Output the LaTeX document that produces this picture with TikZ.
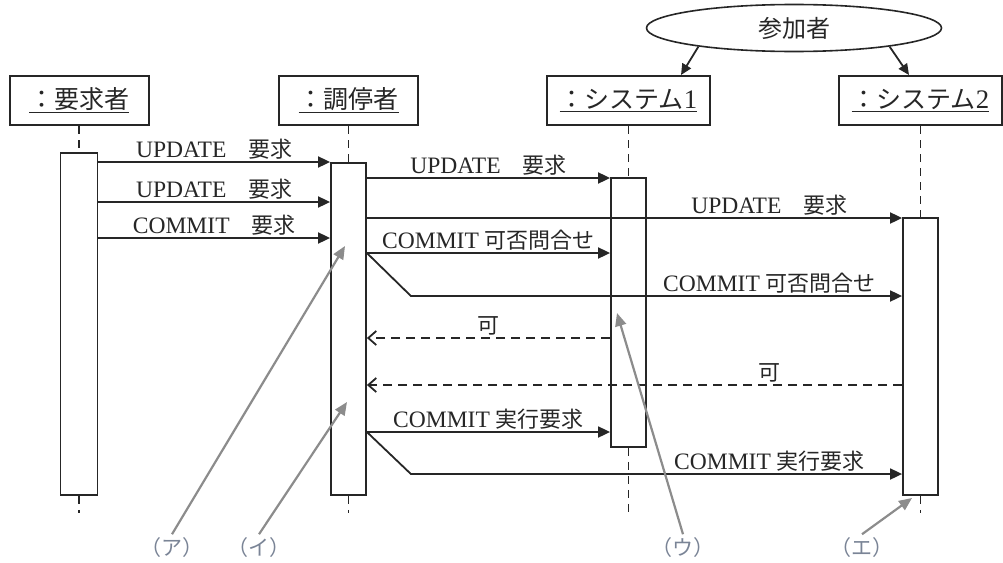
\documentclass[tikz,border=0pt]{standalone}
\usepackage{fontspec}
\setmainfont{Liberation Serif}[Scale=1.07]
\newfontfamily\jp{Noto Sans CJK JP}
\usetikzlibrary{positioning, arrows.meta, shapes.geometric, calc}
\definecolor{lineblack}{HTML}{262626}
\definecolor{notegray}{HTML}{8C8C8C}
\definecolor{notetext}{HTML}{7A8496}

\begin{document}
\begin{tikzpicture}[
    x=1pt, y=-1pt,
    every node/.style={font=\fontsize{22}{24}\selectfont, text=lineblack},
    headbox/.style={draw=lineblack, line width=2pt, minimum height=49pt, inner sep=0pt, font=\fontsize{25}{27}\selectfont},
    actbar/.style={draw=lineblack, line width=1.8pt, fill=white, minimum width=35pt, inner sep=0pt},
    lifeline/.style={draw=lineblack, line width=1.6pt, dash pattern=on 8pt off 6pt},
    callmsg/.style={draw=lineblack, line width=1.8pt, -{Triangle[length=12pt,width=11pt]}},
    replymsg/.style={draw=lineblack, line width=1.8pt, dash pattern=on 9pt off 6pt, -{Straight Barb[length=8pt,width=14pt]}},
    msglabel/.style={above, inner sep=1.5pt},
    notearrow/.style={draw=notegray, line width=2.2pt, -{Triangle[length=13pt,width=11pt]}},
    notelabel/.style={text=notetext, font=\fontsize{21}{23}\selectfont},
  ]
  \useasboundingbox (0,0) rectangle (1003,562);

  \node[draw=lineblack, line width=1.6pt, ellipse, minimum width=295pt, minimum height=47pt, inner sep=0pt, font=\fontsize{24}{26}\selectfont] (part) at (794,28) {\jp 参加者};

  \node[headbox, minimum width=139pt] (req) at (79,100.5) {\underline{\jp ：要求者}};
  \node[headbox, minimum width=139pt] (med) at (348.5,100.5) {\underline{\jp ：調停者}};
  \node[headbox, minimum width=163pt] (sys1) at (628.5,100.5) {\underline{{\jp ：システム}1}};
  \node[headbox, minimum width=163pt] (sys2) at (920.5,100.5) {\underline{{\jp ：システム}2}};

  \draw[callmsg, -{Triangle[length=11pt,width=10pt]}] (part.191) -- ($(sys1.north east)+(-30,0)$);
  \draw[callmsg, -{Triangle[length=11pt,width=10pt]}] (part.349) -- ($(sys2.north west)+(71,0)$);

  \node[actbar, minimum width=37pt, minimum height=342pt] (reqbar) at (79,324) {};
  \node[actbar, minimum height=332pt] (medbar) at (348.5,329) {};
  \node[actbar, minimum height=269pt] (s1bar) at (628.5,312.5) {};
  \node[actbar, minimum height=277pt] (s2bar) at (920.5,356.5) {};

  \draw[lifeline] (req.south) -- (reqbar.north);
  \draw[lifeline] (med.south) -- (medbar.north);
  \draw[lifeline] (sys1.south) -- (s1bar.north);
  \draw[lifeline] (sys2.south) -- (s2bar.north);
  \draw[lifeline] (reqbar.south) -- (reqbar.south |- 0,513);
  \draw[lifeline] (medbar.south) -- (medbar.south |- 0,513);
  \draw[lifeline] (s1bar.south) -- (s1bar.south |- 0,513);
  \draw[lifeline] (s2bar.south) -- (s2bar.south |- 0,513);

  \draw[callmsg] (reqbar.east |- 0,162) -- node[msglabel] {UPDATE{\jp 　要求}} (medbar.west |- 0,162);
  \draw[callmsg] (reqbar.east |- 0,202) -- node[msglabel] {UPDATE{\jp 　要求}} (medbar.west |- 0,202);
  \draw[callmsg] (reqbar.east |- 0,238) -- node[msglabel] {COMMIT{\jp 　要求}} (medbar.west |- 0,238);

  \draw[callmsg] (medbar.east |- 0,178) -- node[msglabel] {UPDATE{\jp 　要求}} (s1bar.west |- 0,178);
  \draw[callmsg] (medbar.east |- 0,218) -- node[msglabel, pos=.752] {UPDATE{\jp 　要求}} (s2bar.west |- 0,218);
  \draw[callmsg] (medbar.east |- 0,253) -- node[msglabel] {COMMIT {\jp 可否問合せ}} (s1bar.west |- 0,253);
  \draw[callmsg] (medbar.east |- 0,253) -- ++(44,43) -- node[msglabel, pos=.73] {COMMIT {\jp 可否問合せ}} (s2bar.west |- 0,296);

  \draw[replymsg] (s1bar.west |- 0,338) -- node[msglabel] {\jp 可} (medbar.east |- 0,338);
  \draw[replymsg] (s2bar.west |- 0,385) -- node[msglabel, pos=.248] {\jp 可} (medbar.east |- 0,385);

  \draw[callmsg] (medbar.east |- 0,432) -- node[msglabel] {COMMIT {\jp 実行要求}} (s1bar.west |- 0,432);
  \draw[callmsg] (medbar.east |- 0,432) -- ++(44,42) -- node[msglabel, pos=.73] {COMMIT {\jp 実行要求}} (s2bar.west |- 0,474);

  \node[notelabel] (na) at (172,548) {\jp （ア）};
  \node[notelabel] (ni) at (259,548) {\jp （イ）};
  \node[notelabel] (nu) at (683,548) {\jp （ウ）};
  \node[notelabel] (ne) at (862,548) {\jp （エ）};
  \coordinate (ta) at (345,246);
  \coordinate (ti) at (347,402);
  \coordinate (tu) at (617,313);
  \coordinate (te) at (912,498);
  \draw[notearrow] (na.north) -- (ta);
  \draw[notearrow] (ni.north) -- (ti);
  \draw[notearrow] (nu.north) -- (tu);
  \draw[notearrow] (ne.north) -- (te);
\end{tikzpicture}
\end{document}
